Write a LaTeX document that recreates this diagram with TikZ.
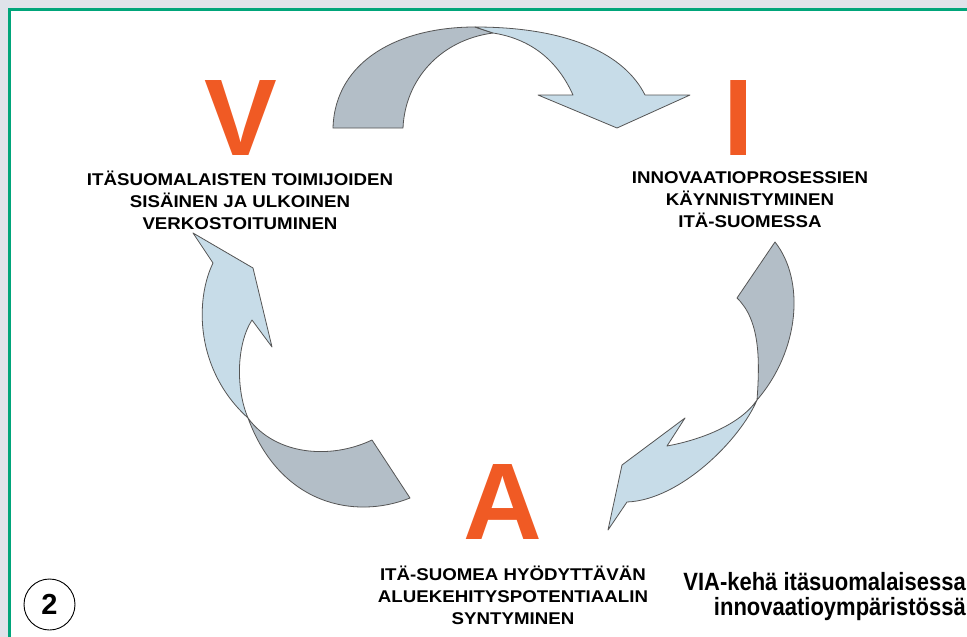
\documentclass[tikz,border=0pt]{standalone}
\usepackage{fontspec}
\setmainfont{Liberation Sans}
\newfontfamily\labfont[FakeStretch=1.1]{Liberation Sans}
\newfontfamily\capfont[FakeStretch=0.88]{Liberation Sans}
\definecolor{bggray}{HTML}{DFE3EA}
\definecolor{framegreen}{HTML}{00A57A}
\definecolor{arrdark}{HTML}{B3BEC7}
\definecolor{arrlight}{HTML}{C7DCE8}
\definecolor{outl}{HTML}{555555}
\definecolor{vorange}{HTML}{F05A24}
\tikzset{
  darkpart/.style={fill=arrdark, draw=outl, line width=0.8pt, line join=round},
  lightpart/.style={fill=arrlight, draw=outl, line width=0.8pt, line join=round},
  bigletter/.style={text=vorange, font=\fontsize{109}{109}\selectfont\bfseries, inner sep=0pt},
  lab/.style={font=\labfont\fontsize{17}{22}\selectfont\bfseries, align=center, inner sep=0pt},
  captiontext/.style={font=\capfont\fontsize{25}{25}\selectfont\bfseries, align=right, inner sep=0pt},
}
\begin{document}
\begin{tikzpicture}[x=1pt,y=-1pt]
\useasboundingbox (0,0) rectangle (967,637);
% background strips and frame
\fill[bggray] (0,0) rectangle (967,9);
\fill[bggray] (0,0) rectangle (9,637);
\fill[white] (9,9) rectangle (967,637);
\draw[framegreen, line width=2.6pt] (9.5,637) -- (9.5,9.5) -- (967,9.5);

% top arrow (V -> I)
\draw[darkpart] (333,128) .. controls (335,60) and (400,27) .. (475,27)
  -- (493,33) .. controls (440,40) and (405,80) .. (403,128) -- cycle;
\draw[lightpart] (475,27) .. controls (570,27) and (625,55) .. (645,95)
  -- (690,95) -- (617,128) -- (538,95) -- (573,95)
  .. controls (555,55) and (525,38) .. (493,33) -- cycle;

% right arrow (I -> A)
\draw[darkpart] (775,242) .. controls (805,280) and (800,350) .. (757,400)
  .. controls (760,360) and (760,320) .. (737,298) -- cycle;
\draw[lightpart] (757,400) .. controls (740,440) and (680,500) .. (627,502)
  -- (608,530) -- (622,465) -- (685,418) -- (667,446)
  .. controls (700,440) and (740,425) .. (757,400) -- cycle;

% left arrow (A -> V)
\draw[darkpart] (248,418) .. controls (275,455) and (330,460) .. (372,440)
  -- (410,498) .. controls (355,520) and (280,505) .. (248,418) -- cycle;
\draw[lightpart] (248,418) .. controls (236,390) and (236,345) .. (252,320)
  -- (272,347) -- (253,268) -- (193,233) -- (213,263)
  .. controls (195,300) and (195,370) .. (248,418) -- cycle;

% big letters
\node[bigletter, anchor=base] (V) at (241,155) {V};
\node[bigletter, anchor=base] (I) at (739,155) {I};
\node[bigletter, anchor=base] (A) at (503,539) {A};

% labels
\node[lab] (vt) at (240,200) {ITÄSUOMALAISTEN TOIMIJOIDEN\\SISÄINEN JA ULKOINEN\\VERKOSTOITUMINEN};
\node[lab] (it) at (750,200) {INNOVAATIOPROSESSIEN\\KÄYNNISTYMINEN\\ITÄ-SUOMESSA};
\node[lab] (at) at (513,595) {ITÄ-SUOMEA HYÖDYTTÄVÄN\\ALUEKEHITYSPOTENTIAALIN\\SYNTYMINEN};

% caption
\node[captiontext, anchor=east] (captxt) at (966,597) {VIA-kehä itäsuomalaisessa\\innovaatioympäristössä};

% number in circle
\node[draw, circle, line width=0.9pt, minimum size=51pt, inner sep=0pt,
      font=\fontsize{29}{29}\selectfont\bfseries] (num) at (49.5,604.5) {2};
\end{tikzpicture}
\end{document}
